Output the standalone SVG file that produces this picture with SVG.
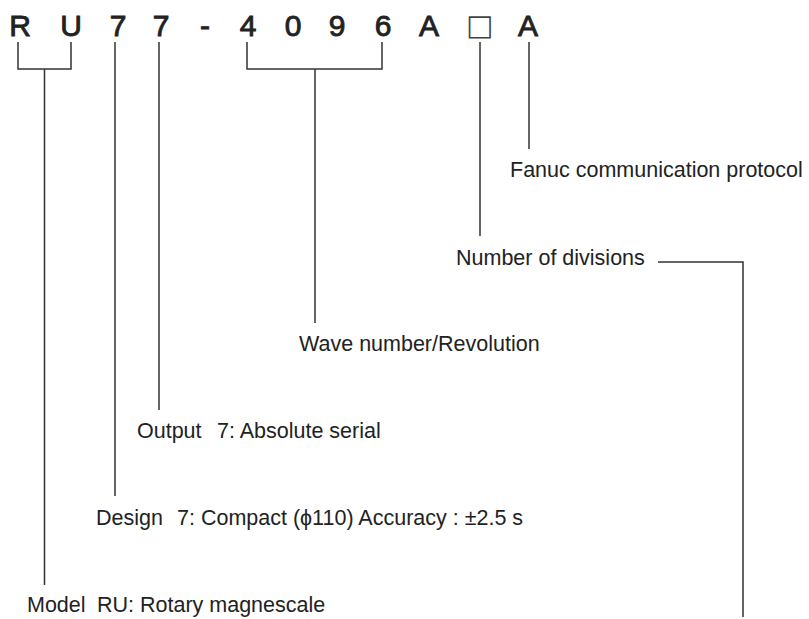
<svg xmlns="http://www.w3.org/2000/svg" width="809" height="619" viewBox="0 0 809 619">
<style>
.code{font-family:"Liberation Sans",Arial,sans-serif;font-size:30px;fill:#222;stroke:#222;stroke-width:0.9;text-anchor:middle}
.sq{font-family:"DejaVu Sans",sans-serif;font-size:29px;fill:#444;text-anchor:middle}
.lbl{font-family:"Liberation Sans",Arial,sans-serif;font-size:21.5px;fill:#222}
.ln{fill:none;stroke:#333;stroke-width:1.5}
</style>
<rect width="809" height="619" fill="#fff"/>
<g id="code">
<text class="code" x="20" y="36">R</text>
<text class="code" x="71" y="36">U</text>
<text class="code" x="118" y="36">7</text>
<text class="code" x="161" y="36">7</text>
<text class="code" x="205" y="36">-</text>
<text class="code" x="248" y="36">4</text>
<text class="code" x="293" y="36">0</text>
<text class="code" x="337" y="36">9</text>
<text class="code" x="383" y="36">6</text>
<text class="code" x="429" y="36">A</text>
<text class="sq" x="480" y="35">□</text>
<text class="code" x="528" y="36">A</text>
</g>
<g id="connectors">
<path class="ln" d="M18,42 V69 H71 V42 M44.5,69 V585"/>
<path class="ln" d="M115,42 V496"/>
<path class="ln" d="M159,42 V410"/>
<path class="ln" d="M247,42 V69 H382 V42 M315,69 V323"/>
<path class="ln" d="M480,42 V236"/>
<path class="ln" d="M529,42 V149"/>
<path class="ln" d="M658,262 H743 V617"/>
</g>
<g id="fanuc"><text class="lbl" x="510" y="177">Fanuc communication protocol</text></g>
<g id="divisions"><text class="lbl" x="456" y="265">Number of divisions</text></g>
<g id="wave"><text class="lbl" x="299" y="351">Wave number/Revolution</text></g>
<g id="output"><text class="lbl" y="438"><tspan x="137">Output</tspan><tspan x="217">7: Absolute serial</tspan></text></g>
<g id="design"><text class="lbl" y="525"><tspan x="96">Design</tspan><tspan x="177">7: Compact (ϕ110) Accuracy : ±2.5 s</tspan></text></g>
<g id="model"><text class="lbl" y="612"><tspan x="27">Model</tspan><tspan x="97">RU: Rotary magnescale</tspan></text></g>
</svg>
